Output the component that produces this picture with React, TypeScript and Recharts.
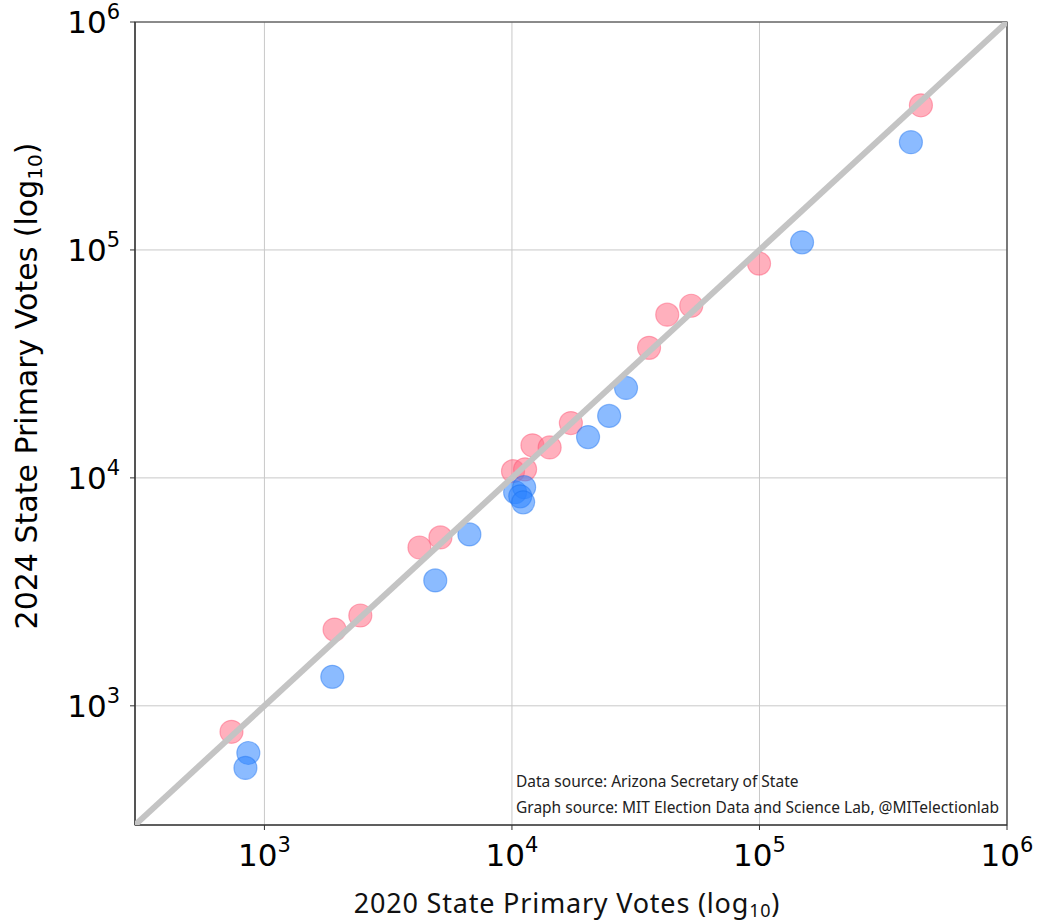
import React from 'react';
import { ScatterChart, Scatter, XAxis, YAxis, CartesianGrid, ReferenceArea } from 'recharts';

// 2020 vs 2024 primary votes by county
const repVotes2020 = [736, 1920, 2440, 4230, 5140, 10100, 11300, 12100, 14200, 17300, 35800, 42400, 53000, 99600, 449000];
const repVotes2024 = [769, 2160, 2490, 4950, 5480, 10700, 10900, 13900, 13600, 17400, 37200, 52000, 56900, 87100, 431000];

const demVotes2020 = [861, 838, 1880, 4900, 6730, 10300, 11200, 10800, 11100, 20300, 24700, 28900, 148600, 409000];
const demVotes2024 = [621, 534, 1340, 3550, 5650, 8650, 9100, 8300, 7810, 15100, 18700, 24800, 108000, 297000];

const decadeTicks = [1000, 10000, 100000, 1000000];
const axisDomain = [300, 1000000];
const diagonal = [{ x: 300, y: 300 }, { x: 1000000, y: 1000000 }];

const repData = repVotes2020.map((v, i) => ({ x: v, y: repVotes2024[i] }));
const demData = demVotes2020.map((v, i) => ({ x: v, y: demVotes2024[i] }));

const TICK_FONT = '"DejaVu Sans", sans-serif';
const NOTE_FONT = '"Noto Sans", sans-serif';

function expOf(v: number) {
  return Math.round(Math.log10(v));
}

function XTick(props: any) {
  const { x, y, payload } = props;
  return (
    <text x={x} y={y + 34} textAnchor="middle" fontFamily={TICK_FONT} fill="#000">
      <tspan fontSize={31}>10</tspan>
      <tspan fontSize={21} dy={-14}>{expOf(payload.value)}</tspan>
    </text>
  );
}

function YTick(props: any) {
  const { x, y, payload } = props;
  return (
    <text x={x - 8} y={y + 11} textAnchor="end" fontFamily={TICK_FONT} fill="#000">
      <tspan fontSize={31}>10</tspan>
      <tspan fontSize={21} dy={-14}>{expOf(payload.value)}</tspan>
    </text>
  );
}

const dot = (fill: string, stroke: string) => (props: any) => (
  <circle cx={props.cx} cy={props.cy} r={11.5} fill={fill} fillOpacity={0.55} stroke={stroke} strokeOpacity={0.45} strokeWidth={1.2} />
);

export default function App() {
  return (
    <div style={{ position: 'absolute', left: 0, top: 0, background: '#fff' }}>
      <ScatterChart width={1039} height={924} margin={{ top: 22, right: 32, left: 0, bottom: 0 }}>
        <CartesianGrid stroke="#c8c8c8" strokeWidth={1} />
        <XAxis
          type="number"
          dataKey="x"
          scale="log"
          domain={axisDomain}
          ticks={decadeTicks}
          allowDataOverflow
          height={99}
          axisLine={{ stroke: '#333' }}
          tickLine={{ stroke: '#333' }}
          tickSize={5}
          tick={<XTick />}
        />
        <YAxis
          type="number"
          dataKey="y"
          scale="log"
          domain={axisDomain}
          ticks={decadeTicks}
          allowDataOverflow
          width={135}
          axisLine={{ stroke: '#333' }}
          tickLine={{ stroke: '#333' }}
          tickSize={5}
          tick={<YTick />}
        />
        <ReferenceArea x1={300} x2={1000000} y1={300} y2={1000000} fill="none" stroke="#333" strokeWidth={1.2} ifOverflow="visible" />
        <Scatter data={repData} shape={dot('#ff6f86', '#ff5070')} isAnimationActive={false} />
        <Scatter data={demData} shape={dot('#2b84ff', '#1a70f0')} isAnimationActive={false} />
        <Scatter
          data={diagonal}
          line={{ stroke: '#c4c4c4', strokeWidth: 6 }}
          shape={() => null}
          isAnimationActive={false}
        />
        <text x={516} y={787} fontFamily={NOTE_FONT} fontSize={15.5} fill="#222">
          Data source: Arizona Secretary of State
        </text>
        <text x={516} y={813} fontFamily={NOTE_FONT} fontSize={15.5} fill="#222">
          Graph source: MIT Election Data and Science Lab, @MITelectionlab
        </text>
        <text x={567} y={913} textAnchor="middle" fontFamily={NOTE_FONT} fontSize={27} letterSpacing={0.8} fill="#111">
          <tspan>2020 State Primary Votes (log</tspan>
          <tspan fontSize={18} dy={4}>10</tspan>
          <tspan dy={-4}>)</tspan>
        </text>
        <text
          x={37}
          y={386}
          textAnchor="middle"
          transform="rotate(-90 37 386)"
          fontFamily={TICK_FONT}
          fontSize={30}
          fill="#000"
        >
          <tspan>2024 State Primary Votes (log</tspan>
          <tspan fontSize={20} dy={5}>10</tspan>
          <tspan dy={-5}>)</tspan>
        </text>
      </ScatterChart>
    </div>
  );
}
